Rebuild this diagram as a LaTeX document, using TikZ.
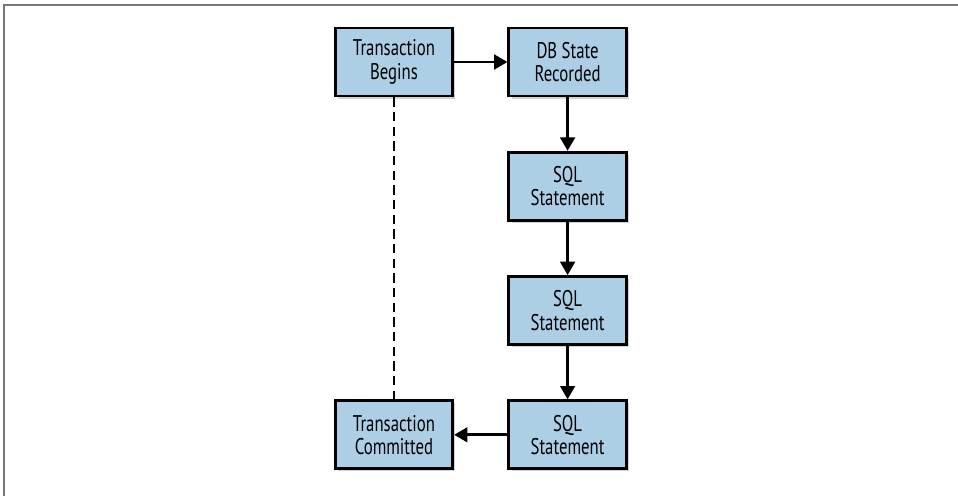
\documentclass[tikz,border=0pt]{standalone}
\usepackage{fontspec}
\setmainfont{PT Sans}[FakeStretch=0.74]
\usetikzlibrary{positioning,arrows.meta,shadows}
\definecolor{boxblue}{RGB}{173,207,229}
\definecolor{framegray}{RGB}{120,120,120}

\begin{document}
\begin{tikzpicture}[x=0.75pt,y=0.75pt,node distance=40pt and 40pt,
    cell/.style={rectangle,draw=black,line width=2.2pt,fill=boxblue,minimum width=88pt,minimum height=51pt,align=center,
        font=\fontsize{17}{17.5}\selectfont,drop shadow={shadow xshift=2pt,shadow yshift=-2pt,opacity=0.35}},
    link/.style={line width=2pt,-{Triangle[length=10pt,width=11pt]}}]

    \useasboundingbox (0,0) rectangle (958,-496);
    \draw[framegray,line width=1.5pt] (3.5,-496) -- (3.5,-4.5) -- (958,-4.5);

    \node[cell] (begins) at (394,-62) {Transaction\\Begins};
    \node[cell,right=of begins] (recorded) {DB State\\Recorded};
    \node[cell,below=of recorded] (sqla) {SQL\\Statement};
    \node[cell,below=of sqla] (sqlb) {SQL\\Statement};
    \node[cell,below=of sqlb] (sqlc) {SQL\\Statement};
    \node[cell,left=of sqlc] (committed) {Transaction\\Committed};

    \draw[link] (begins) -- (recorded);
    \draw[link] (recorded) -- (sqla);
    \draw[link] (sqla) -- (sqlb);
    \draw[link] (sqlb) -- (sqlc);
    \draw[link] (sqlc) -- (committed);
    \draw[line width=1.8pt,dash pattern=on 7pt off 4pt] (begins) -- (committed);
\end{tikzpicture}
\end{document}
